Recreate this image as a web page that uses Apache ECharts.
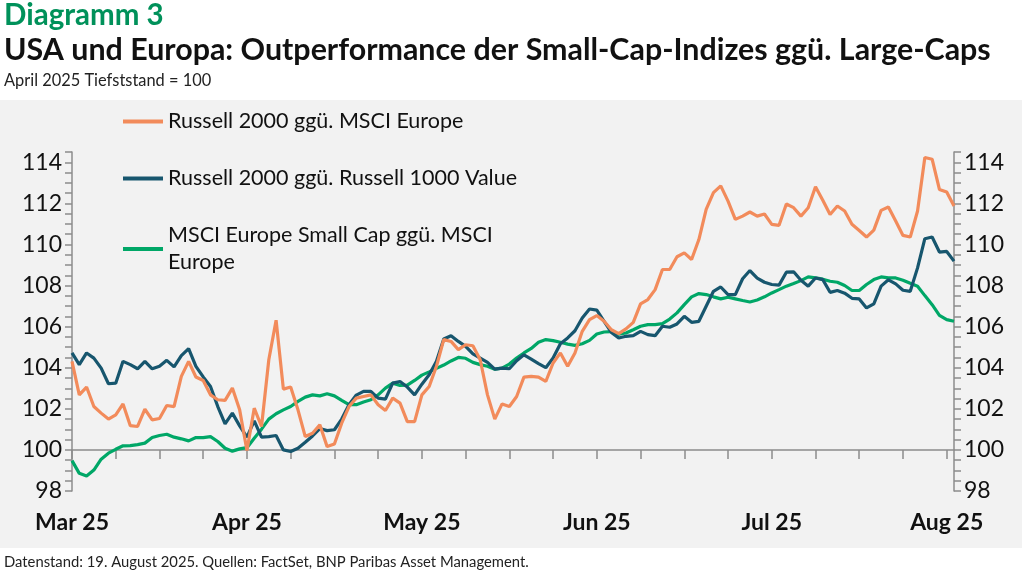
<!DOCTYPE html>
<html><head><meta charset="utf-8">
<script src="https://cdn.jsdelivr.net/npm/echarts@6/dist/echarts.min.js"></script>
<style>html,body{margin:0;padding:0;background:#fff}#c{width:1022px;height:574px}</style>
</head><body><div id="c"></div>
<script>
// business days 3 Mar 2025 – 19 Aug 2025
const categories = (function(){const a=[];const d=new Date(Date.UTC(2025,2,3));const end=Date.UTC(2025,7,19);
  while(d.getTime()<=end){const w=d.getUTCDay();if(w!==0&&w!==6)a.push(d.toISOString().slice(0,10));d.setUTCDate(d.getUTCDate()+1);}return a;})();
const monthNames = ['Jan','Feb','Mar','Apr','May','Jun','Jul','Aug','Sep','Oct','Nov','Dec'];
const yTicks = [98,100,102,104,106,108,110,112,114];

const russellVsMsciEurope = [104.31,102.68,103.06,102.11,101.79,101.50,101.71,102.24,101.18,101.14,101.98,101.46,101.53,102.16,102.11,103.58,104.31,103.55,103.38,102.68,102.44,102.41,103.01,101.95,99.97,102.03,101.14,104.39,106.31,102.96,103.06,101.95,100.65,100.81,101.22,100.16,100.29,101.30,102.11,102.52,102.60,102.68,102.20,101.92,102.52,
102.28,101.38,101.38,102.68,103.09,104.07,105.37,105.28,104.88,105.12,105.07,104.39,102.68,101.50,102.24,102.11,102.60,103.54,103.58,103.54,103.33,104.23,104.72,104.07,104.72,105.77,106.34,106.54,106.26,105.85,105.66,105.89,106.21,107.11,107.32,107.80,108.78,108.78,109.40,109.59,109.27,110.24,111.71,112.52,
112.85,112.11,111.22,111.38,111.58,111.38,111.48,110.98,110.93,111.97,111.79,111.38,111.79,112.81,112.15,111.46,111.87,111.63,110.98,110.68,110.36,110.70,111.66,111.82,111.14,110.44,110.36,111.63,114.23,114.15,112.68,112.55,111.87];
const russellVsR1000Value = [104.72,104.15,104.72,104.47,103.98,103.22,103.25,104.31,104.15,103.95,104.31,103.95,104.07,104.36,104.04,104.59,104.93,104.07,103.55,103.09,102.11,101.27,101.79,101.17,100.62,101.41,100.62,100.65,100.70,100.00,99.92,100.08,100.37,100.68,101.04,100.94,100.98,101.50,102.20,102.67,102.85,102.85,102.52,102.47,103.25,
103.33,103.06,102.68,103.20,103.66,104.31,105.40,105.56,105.28,105.04,104.67,104.47,104.26,103.93,103.98,103.95,104.34,104.63,104.42,104.20,104.00,104.47,105.17,105.45,105.80,106.42,106.86,106.80,106.26,105.72,105.45,105.53,105.56,105.77,105.61,105.56,106.02,105.97,106.13,106.50,106.21,106.26,106.99,107.72,
107.93,107.56,107.56,108.33,108.73,108.36,108.16,108.05,108.02,108.65,108.67,108.26,107.97,108.37,108.29,107.67,107.76,107.63,107.38,107.35,106.91,107.11,107.97,108.28,108.08,107.77,107.72,108.86,110.28,110.36,109.63,109.66,109.19];
const msciSmallVsMsciEurope = [99.48,98.86,98.73,99.02,99.55,99.84,100.03,100.20,100.21,100.26,100.33,100.60,100.70,100.76,100.62,100.54,100.44,100.60,100.60,100.65,100.41,100.08,99.94,100.05,100.11,100.57,101.01,101.50,101.76,101.95,102.11,102.36,102.57,102.68,102.63,102.73,102.63,102.41,102.20,102.20,102.33,102.44,102.68,103.01,103.25,
103.14,103.15,103.38,103.64,103.80,103.97,104.13,104.33,104.50,104.46,104.26,104.15,104.07,103.93,103.98,104.18,104.47,104.72,104.94,105.24,105.37,105.32,105.24,105.15,105.09,105.17,105.33,105.64,105.74,105.76,105.63,105.69,105.85,106.02,106.10,106.10,106.15,106.37,106.67,107.07,107.45,107.61,107.56,107.45,
107.35,107.43,107.35,107.27,107.20,107.30,107.45,107.64,107.80,107.97,108.10,108.24,108.42,108.37,108.31,108.21,108.16,108.00,107.76,107.76,108.05,108.29,108.42,108.37,108.37,108.26,108.11,107.97,107.51,107.07,106.55,106.34,106.26];

const seriesNames = ['Russell 2000 ggü. MSCI Europe','Russell 2000 ggü. Russell 1000 Value','MSCI Europe Small Cap ggü. MSCI Europe'];
const colors = ['#f28b5b','#17566e','#00a767'];
const FONT = 'Lato';
const axisGrey = '#8c8c8c';

const chart = echarts.init(document.getElementById('c'));
const yAxisBase = (pos) => ({
  type:'value', position:pos, min:98, max:114.5, interval:2,
  axisLine:{show:true,lineStyle:{color:axisGrey,width:1.5}},
  axisTick:{show:true,length:7,lineStyle:{color:axisGrey,width:1.5}},
  minorTick:{show:true,splitNumber:4,length:7,lineStyle:{color:axisGrey,width:1.5}},
  splitLine:{show:false},
  axisLabel:{showMaxLabel:false,fontFamily:FONT,fontSize:23,color:'#111',margin:10,
    formatter:v=>yTicks.indexOf(v)>=0?String(v):''}
});
chart.setOption({
  backgroundColor:'#fff',
  animation:false,
  graphic:[
    {type:'rect',shape:{x:0,y:100,width:1022,height:448},style:{fill:'#f2f2f2'},z:-10},
    {type:'text',left:4,top:0,style:{text:'Diagramm 3',fontFamily:FONT,fontWeight:'bold',fontSize:29.5,fill:'#00915a'}},
    {type:'text',left:4,top:35,style:{text:'USA und Europa: Outperformance der Small-Cap-Indizes ggü. Large-Caps',fontFamily:FONT,fontWeight:'bold',fontSize:30.4,fill:'#111'}},
    {type:'text',left:4,top:73,style:{text:'April 2025 Tiefststand = 100',fontFamily:FONT,fontSize:16.4,fill:'#222'}},
    {type:'text',left:4,top:555,style:{text:'Datenstand: 19. August 2025. Quellen: FactSet, BNP Paribas Asset Management.',fontFamily:FONT,fontSize:14.8,fill:'#222'}}
  ],
  legend:{orient:'vertical',left:118,top:103,itemWidth:40,itemHeight:4,itemGap:30,icon:'rect',
    textStyle:{fontFamily:FONT,fontSize:21.5,color:'#111',lineHeight:27},
    formatter:n=>n==='MSCI Europe Small Cap ggü. MSCI Europe'?'MSCI Europe Small Cap ggü. MSCI\nEurope':n,
    data:seriesNames},
  grid:{left:72,right:68,top:152,bottom:83},
  xAxis:[
    {type:'category',data:categories,boundaryGap:false,position:'bottom',offset:-41,
     axisLine:{lineStyle:{color:axisGrey,width:1.5}},
     axisTick:{show:true,interval:5,length:9,lineStyle:{color:axisGrey,width:1.5}},
     axisLabel:{show:false}},
    {type:'category',data:categories,boundaryGap:false,position:'bottom',
     axisLine:{show:false},axisTick:{show:false},
     axisLabel:{interval:23,fontFamily:FONT,fontWeight:'bold',fontSize:23,color:'#111',margin:20,
       formatter:v=>monthNames[+v.slice(5,7)-1]+' '+v.slice(2,4)}}
  ],
  yAxis:[yAxisBase('left'),yAxisBase('right')],
  series:[russellVsMsciEurope,russellVsR1000Value,msciSmallVsMsciEurope].map((d,i)=>({
    name:seriesNames[i],type:'line',data:d,xAxisIndex:0,yAxisIndex:0,showSymbol:false,symbol:'none',
    lineStyle:{width:3.2,color:colors[i]},itemStyle:{color:colors[i]},z:3-i===0?1:3-i
  }))
});
</script></body></html>
